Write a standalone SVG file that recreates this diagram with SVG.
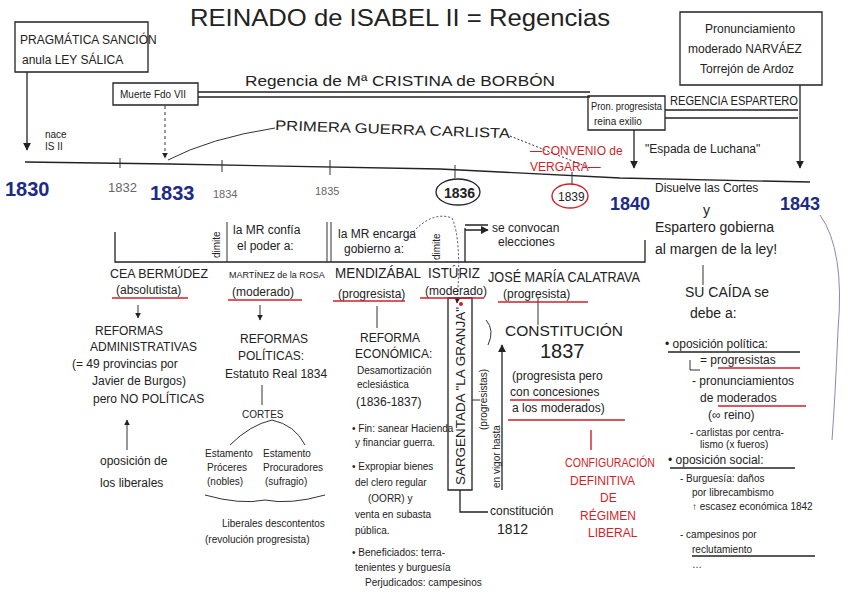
<svg xmlns="http://www.w3.org/2000/svg" width="848" height="607" viewBox="0 0 848 607">
<defs>
<style>
text{font-family:"Liberation Sans",Arial,sans-serif;fill:#222;}
.t{font-size:12px;}
.s{font-size:10px;}
.m{font-size:14px;}
.b{fill:#1c2a88;font-weight:bold;}
.r{fill:#d11f2a;}
.g{fill:#666;}
.ln{stroke:#222;stroke-width:1.3;fill:none;}
.thin{stroke:#333;stroke-width:1;fill:none;}
.red{stroke:#d11f2a;stroke-width:1.4;fill:none;}
.blu{stroke:#3a3aa0;stroke-width:1;fill:none;stroke-dasharray:2 2;}
</style>
<marker id="ah" viewBox="0 0 10 10" refX="9" refY="5" markerWidth="6" markerHeight="6" orient="auto"><path d="M0,0L10,5L0,10z" fill="#222"/></marker>
</defs>
<rect width="848" height="607" fill="#fff"/>

<g id="title"><text x="190" y="26" font-size="24" textLength="420" lengthAdjust="spacingAndGlyphs">REINADO de ISABEL II = Regencias</text></g>

<g id="connectors">
<path class="ln" d="M25,162 L170,164 L440,169 L620,178 L810,182"/>
<path class="thin" d="M120,158 V168 M222,160 V172 M330,160 V175 M455,165 V178 M572,172 V185"/>
<path class="ln" d="M27,72 V150" marker-end="url(#ah)"/>
<path class="thin" d="M165,106 V158" stroke-dasharray="3 3" marker-end="url(#ah)"/>
<path class="ln" d="M198,92 H590 M198,97 H590"/>
<path class="thin" d="M168,160 Q210,138 275,128"/>
<path class="thin" d="M510,136 L590,168" stroke-dasharray="2 2"/>
<path class="ln" d="M588,96 H665 V130 H588 Z"/>
<path class="ln" d="M634,130 V168" marker-end="url(#ah)"/>
<path class="ln" d="M665,110 H798 M665,118 H798"/>
<path class="ln" d="M800,85 V168" marker-end="url(#ah)"/>
<path class="ln" d="M115,232 V262 H645 V240"/>
<path class="thin" d="M227,222 V262 M327,222 V262 M331,222 V262"/>
<path class="ln" d="M465,228 V262"/>
<path class="ln" d="M465,225 H488 M465,230 H488" marker-end="url(#ah)"/>
<path class="blu" d="M408,238 Q430,210 452,218 Q462,240 457,303" marker-end="url(#ah)"/>
<path class="thin" d="M138,305 V318" marker-end="url(#ah)"/>
<path class="thin" d="M127,450 V420" marker-end="url(#ah)"/>
<path class="thin" d="M260,305 V320" marker-end="url(#ah)"/>
<path class="thin" d="M262,385 V405"/>
<path class="thin" d="M272,420 Q250,425 230,445 M272,420 Q295,425 305,445"/>
<path class="thin" d="M205,495 Q240,505 265,500 Q290,505 325,495"/>
<path class="thin" d="M377,306 V328"/>
<path class="thin" d="M538,298 V325"/>
<path class="ln" d="M448,298 H472 V490 H448 Z"/>
<path class="ln" d="M460,490 V512 H488"/>
<path class="ln" d="M502,490 V345" marker-end="url(#ah)"/>
<path class="thin" d="M472,400 H480 M486,320 Q495,330 488,345"/>
<path class="red" d="M591,430 V450"/>
<path class="thin" d="M703,265 V285"/>
<path class="thin" d="M690,360 V370 H700"/>
<path d="M820,215 Q845,250 838,330 Q835,400 832,440" fill="none" stroke="#8888bb" stroke-width="1"/>
</g>

<g id="n-pragmatica">
<path class="ln" d="M15,22 H148 V72 H15 Z"/>
<text class="t" x="20" y="44">PRAGMÁTICA SANCIÓN</text>
<text class="t" x="22" y="64">anula LEY SÁLICA</text>
</g>
<g id="n-nace"><text class="s" x="45" y="138">nace</text><text class="s" x="45" y="150">IS II</text></g>
<g id="n-muerte"><path class="ln" d="M113,83 H198 V105 H113 Z"/><text class="s" x="120" y="98">Muerte Fdo VII</text></g>
<g id="n-regencia-mc"><text class="m" x="245" y="86" textLength="310" lengthAdjust="spacingAndGlyphs">Regencia de Mª CRISTINA de BORBÓN</text></g>
<g id="n-guerra"><text class="m" x="275" y="130" textLength="235" lengthAdjust="spacingAndGlyphs" transform="rotate(2 275 130)">PRIMERA GUERRA CARLISTA</text></g>
<g id="n-vergara"><text class="t r" x="530" y="155">—CONVENIO de</text><text class="t r" x="530" y="171">VERGARA—</text></g>
<g id="n-pron-prog"><text class="s" x="591" y="110" textLength="71" lengthAdjust="spacingAndGlyphs">Pron. progresista</text><text class="s" x="594" y="125">reina exilio</text></g>
<g id="n-regencia-esp"><text class="t" x="670" y="105" textLength="128" lengthAdjust="spacingAndGlyphs">REGENCIA ESPARTERO</text></g>
<g id="n-espada"><text class="t" x="645" y="153">"Espada de Luchana"</text></g>
<g id="n-narvaez">
<path class="ln" d="M680,12 H822 V85 H680 Z"/>
<text class="t" x="705" y="33">Pronunciamiento</text>
<text class="t" x="688" y="53">moderado NARVÁEZ</text>
<text class="t" x="700" y="73">Torrejón de Ardoz</text>
</g>

<g id="n-years">
<text x="5" y="196" font-size="20" class="b">1830</text>
<text x="108" y="192" font-size="13" class="g">1832</text>
<text x="150" y="200" font-size="20" class="b">1833</text>
<text x="213" y="198" font-size="11" class="g">1834</text>
<text x="315" y="195" font-size="11" class="g">1835</text>
<ellipse cx="458" cy="192" rx="22" ry="13" class="ln"/>
<text x="444" y="198" font-size="14" font-weight="bold">1836</text>
<ellipse cx="570" cy="196" rx="18" ry="12" class="red"/>
<text x="558" y="201" font-size="12">1839</text>
<text x="610" y="210" font-size="18" class="b">1840</text>
<text x="780" y="210" font-size="18" class="b">1843</text>
<text class="t" x="655" y="192">Disuelve las Cortes</text>
</g>

<g id="n-row">
<text class="s" transform="translate(220,258) rotate(-90)">dimite</text>
<text class="t" x="233" y="234">la MR confía</text><text class="t" x="237" y="250">el poder a:</text>
<text class="t" x="338" y="238">la MR encarga</text><text class="t" x="344" y="253">gobierno a:</text>
<text class="s" transform="translate(440,260) rotate(-90)">dimite</text>
<text class="t" x="492" y="232">se convocan</text><text class="t" x="498" y="246">elecciones</text>
</g>

<g id="n-cea">
<text class="t" x="110" y="278" textLength="98" lengthAdjust="spacingAndGlyphs">CEA BERMÚDEZ</text>
<text class="t" x="116" y="294">(absolutista)</text>
<path class="red" d="M112,298 H188"/>
</g>
<g id="n-martinez">
<text x="229" y="278" font-size="9">MARTÍNEZ de la ROSA</text>
<text class="t" x="232" y="296">(moderado)</text>
<path class="red" d="M228,300 H302"/>
</g>
<g id="n-mendizabal">
<text class="m" x="335" y="278" textLength="86" lengthAdjust="spacingAndGlyphs">MENDIZÁBAL</text>
<text class="t" x="338" y="298">(progresista)</text>
<path class="red" d="M333,301 H405"/>
</g>
<g id="n-isturiz">
<text class="m" x="428" y="278" textLength="52" lengthAdjust="spacingAndGlyphs">ISTÚRIZ</text>
<text class="t" x="425" y="295">(moderado)</text>
<path class="red" d="M420,298 H484"/>
</g>
<g id="n-calatrava">
<text class="m" x="488" y="282" textLength="152" lengthAdjust="spacingAndGlyphs">JOSÉ MARÍA CALATRAVA</text>
<text class="t" x="503" y="298">(progresista)</text>
<path class="red" d="M498,302 H588"/>
</g>

<g id="n-ref-admin">
<text class="t" x="95" y="335">REFORMAS</text>
<text class="t" x="90" y="351">ADMINISTRATIVAS</text>
<text class="t" x="72" y="368">(= 49 provincias por</text>
<text class="t" x="92" y="385">Javier de Burgos)</text>
<text class="t" x="93" y="403">pero NO POLÍTICAS</text>
</g>
<g id="n-oposicion-lib"><text class="t" x="100" y="465">oposición de</text><text class="t" x="100" y="487">los liberales</text></g>

<g id="n-ref-pol">
<text class="t" x="240" y="343">REFORMAS</text>
<text class="t" x="238" y="360">POLÍTICAS:</text>
<text class="t" x="225" y="378">Estatuto Real 1834</text>
</g>
<g id="n-cortes"><text class="s" x="242" y="418">CORTES</text></g>
<g id="n-estamentos">
<text class="s" x="205" y="457">Estamento</text><text class="s" x="207" y="471">Próceres</text><text class="s" x="207" y="485">(nobles)</text>
<text class="s" x="263" y="457">Estamento</text><text class="s" x="263" y="471">Procuradores</text><text class="s" x="265" y="485">(sufragio)</text>
</g>
<g id="n-liberales-desc"><text class="s" x="222" y="527">Liberales descontentos</text><text class="s" x="205" y="543">(revolución progresista)</text></g>

<g id="n-ref-eco">
<text class="t" x="360" y="342">REFORMA</text>
<text class="t" x="355" y="358">ECONÓMICA:</text>
<text class="s" x="357" y="374">Desamortización</text>
<text class="s" x="357" y="388">eclesiástica</text>
<text class="t" x="356" y="406">(1836-1837)</text>
<text class="s" x="352" y="432">• Fin: sanear Hacienda</text>
<text class="s" x="355" y="446">y financiar guerra.</text>
<text class="s" x="352" y="470">• Expropiar bienes</text>
<text class="s" x="355" y="486">del clero regular</text>
<text class="s" x="368" y="502">(OORR) y</text>
<text class="s" x="355" y="518">venta en subasta</text>
<text class="s" x="355" y="534">pública.</text>
<text class="s" x="352" y="556">• Beneficiados: terra-</text>
<text class="s" x="355" y="571">tenientes y burguesía</text>
<text class="s" x="365" y="586">Perjudicados: campesinos</text>
</g>

<g id="n-sargentada">
<circle cx="461" cy="304" r="2" fill="#d11f2a"/>
<text class="t" transform="translate(465,485) rotate(-90)" textLength="178" lengthAdjust="spacingAndGlyphs">SARGENTADA "LA GRANJA"</text>
<text class="s" transform="translate(487,430) rotate(-90)">(progresistas)</text>
<text class="s" transform="translate(500,488) rotate(-90)">en vigor hasta</text>
</g>
<g id="n-const1812"><text class="t" x="490" y="515">constitución</text><text class="m" x="497" y="534">1812</text></g>

<g id="n-const1837">
<text class="m" x="505" y="336" textLength="118" lengthAdjust="spacingAndGlyphs">CONSTITUCIÓN</text>
<text x="540" y="358" font-size="20">1837</text>
<text class="t" x="512" y="380">(progresista pero</text>
<text class="t" x="510" y="396">con concesiones</text>
<text class="t" x="512" y="412">a los moderados)</text>
<path class="red" d="M510,400 H590 M508,420 H625"/>
</g>
<g id="n-config">
<text class="t r" x="565" y="467" textLength="90" lengthAdjust="spacingAndGlyphs">CONFIGURACIÓN</text>
<text class="t r" x="570" y="485">DEFINITIVA</text>
<text class="t r" x="600" y="502">DE</text>
<text class="t r" x="580" y="520">RÉGIMEN</text>
<text class="t r" x="588" y="537">LIBERAL</text>
</g>

<g id="n-espartero">
<text class="m" x="703" y="215">y</text>
<text class="m" x="655" y="232">Espartero gobierna</text>
<text class="m" x="655" y="254">al margen de la ley!</text>
<text class="m" x="685" y="297">SU CAÍDA se</text>
<text class="m" x="690" y="318">debe a:</text>
<text class="t" x="665" y="348">• oposición política:</text>
<path class="ln" d="M668,352 H800"/>
<text class="t" x="700" y="364">= progresistas</text>
<path class="red" d="M718,368 H800"/>
<text class="t" x="692" y="385">- pronunciamientos</text>
<text class="t" x="700" y="402">de moderados</text>
<path class="red" d="M718,406 H806"/>
<text class="t" x="708" y="419">(∞ reino)</text>
<text class="s" x="690" y="436">- carlistas por centra-</text>
<text class="s" x="700" y="448">lismo (x fueros)</text>
<text class="t" x="668" y="464">• oposición social:</text>
<path class="ln" d="M670,468 H795"/>
<text class="s" x="680" y="482">- Burguesía: daños</text>
<text class="s" x="692" y="496">por librecambismo</text>
<text class="s" x="692" y="510">↑ escasez económica 1842</text>
<text class="s" x="680" y="538">- campesinos por</text>
<text class="s" x="692" y="553">reclutamiento</text>
<path class="ln" d="M692,556 H815"/>
<text class="s" x="692" y="568">…</text>
</g>
</svg>
